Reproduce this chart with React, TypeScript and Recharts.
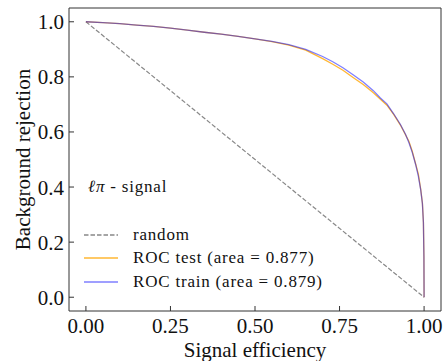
import { LineChart, Line, XAxis, YAxis, Legend, ReferenceArea } from 'recharts'

const FONT = 'Liberation Serif, Tinos, Times New Roman, DejaVu Serif, serif'

// signal efficiency / background rejection
const effTest = [0, 0.05, 0.1, 0.15, 0.2, 0.25, 0.3, 0.35, 0.4, 0.45, 0.5, 0.55, 0.6, 0.65, 0.7, 0.73, 0.76, 0.79, 0.82, 0.85, 0.87, 0.89, 0.91, 0.93, 0.945, 0.955, 0.965, 0.975, 0.983, 0.99, 0.995, 0.998, 0.9995, 1.0]
const rejTest = [1.0, 0.997, 0.993, 0.988, 0.983, 0.977, 0.970, 0.962, 0.955, 0.947, 0.938, 0.928, 0.915, 0.897, 0.866, 0.846, 0.824, 0.798, 0.772, 0.742, 0.720, 0.697, 0.664, 0.625, 0.590, 0.566, 0.530, 0.484, 0.447, 0.392, 0.342, 0.272, 0.150, 0.0]

const effTrain = [0, 0.05, 0.1, 0.15, 0.2, 0.25, 0.3, 0.35, 0.4, 0.45, 0.5, 0.55, 0.6, 0.65, 0.7, 0.73, 0.76, 0.79, 0.82, 0.85, 0.87, 0.89, 0.91, 0.93, 0.945, 0.955, 0.965, 0.975, 0.983, 0.99, 0.995, 0.998, 0.9995, 1.0]
const rejTrain = [1.0, 0.997, 0.993, 0.988, 0.983, 0.977, 0.970, 0.962, 0.955, 0.947, 0.938, 0.929, 0.917, 0.900, 0.874, 0.855, 0.833, 0.808, 0.781, 0.750, 0.724, 0.702, 0.666, 0.627, 0.592, 0.562, 0.526, 0.482, 0.440, 0.390, 0.340, 0.270, 0.148, 0.0]

const effRandom = [0, 1]
const rejRandom = [1, 0]

const legendOrder = ['random', 'ROC test (area = 0.877)', 'ROC train (area = 0.879)']

const xTicks = [0, 0.25, 0.5, 0.75, 1]
const yTicks = [0, 0.2, 0.4, 0.6, 0.8, 1]
const minorTicks = [0, 0.05, 0.1, 0.15, 0.2, 0.25, 0.3, 0.35, 0.4, 0.45, 0.5, 0.55, 0.6, 0.65, 0.7, 0.75, 0.8, 0.85, 0.9, 0.95, 1]

const toPoints = (xs: number[], ys: number[]) => xs.map((x, i) => ({ x, y: ys[i] }))

const testData = toPoints(effTest, rejTest)
const trainData = toPoints(effTrain, rejTrain)
const randomData = toPoints(effRandom, rejRandom)

const DOMAIN: [number, number] = [-0.05, 1.05]
const tickStyle = { fill: '#111', fontSize: 21, fontFamily: FONT }

const YTitle = ({ viewBox }: any) => {
  const cy = viewBox.y + viewBox.height / 2
  return (
    <text x={23} y={cy} transform={`rotate(-90, 23, ${cy})`} textAnchor="middle"
          dominantBaseline="central" fill="#111" fontSize={21} style={{ fontFamily: FONT }}>
      Background rejection
    </text>
  )
}

const XTitle = ({ viewBox }: any) => (
  <text x={viewBox.x + viewBox.width / 2} y={357} textAnchor="middle"
        fill="#111" fontSize={21} style={{ fontFamily: FONT }}>
    Signal efficiency
  </text>
)

const renderLegend = ({ payload }: any) => {
  const items = [...(payload || [])].sort(
    (a: any, b: any) => legendOrder.indexOf(a.value) - legendOrder.indexOf(b.value))
  return (
    <div style={{ fontFamily: FONT, fontSize: 17, color: '#111', letterSpacing: 0.8 }}>
      <div style={{ marginLeft: 4, height: 20, lineHeight: '20px', marginBottom: 26 }}>
        <span style={{ fontStyle: 'italic' }}>ℓπ</span> - signal
      </div>
      {items.map((entry: any) => (
        <div key={entry.value} style={{ display: 'flex', alignItems: 'center', height: 23.5 }}>
          <svg width={34} height={4}>
            <line x1={0} y1={2} x2={34} y2={2} stroke={entry.color} strokeWidth={1.5}
                  strokeOpacity={entry.payload?.strokeOpacity ?? 1}
                  strokeDasharray={entry.payload?.strokeDasharray} />
          </svg>
          <span style={{ marginLeft: 15, lineHeight: '20px' }}>{entry.value}</span>
        </div>
      ))}
    </div>
  )
}

export default function App() {
  return (
    <div style={{ position: 'relative', width: 444, height: 361, background: '#fff', fontFamily: FONT }}>
      <style>{'body { margin: 0; }'}</style>
      <LineChart width={444} height={361} margin={{ top: 8, right: 3, bottom: 0, left: 0 }}>
        <XAxis dataKey="x" type="number" domain={DOMAIN} allowDataOverflow ticks={xTicks}
               tickFormatter={(v: number) => v.toFixed(2)} tick={tickStyle} axisLine={false}
               tickSize={-5} tickMargin={12} tickLine={{ stroke: '#333' }} height={50}
               label={<XTitle />} />
        <XAxis xAxisId="minor" dataKey="x" type="number" domain={DOMAIN} allowDataOverflow
               ticks={minorTicks} tick={false} axisLine={false} mirror tickSize={3}
               tickLine={{ stroke: '#333' }} height={1} />
        <YAxis dataKey="y" type="number" domain={DOMAIN} allowDataOverflow ticks={yTicks}
               tickFormatter={(v: number) => v.toFixed(1)} tick={tickStyle} axisLine={false}
               tickSize={-5} tickMargin={10} tickLine={{ stroke: '#333' }} width={69}
               label={<YTitle />} />
        <YAxis yAxisId="minor" dataKey="y" type="number" domain={DOMAIN} allowDataOverflow
               ticks={minorTicks} tick={false} axisLine={false} mirror tickSize={3}
               tickLine={{ stroke: '#333' }} width={1} />
        <ReferenceArea x1={-0.05} x2={1.05} y1={-0.05} y2={1.05} fill="none" fillOpacity={0}
                       stroke="#333" strokeWidth={1} />
        <Line data={randomData} dataKey="y" name="random" type="linear" stroke="#888"
              strokeWidth={1.2} strokeDasharray="4.5 2" dot={false} isAnimationActive={false} />
        <Line data={testData} dataKey="y" name="ROC test (area = 0.877)" type="linear"
              stroke="#ffa500" strokeOpacity={0.8} strokeWidth={1.3} dot={false}
              isAnimationActive={false} />
        <Line data={trainData} dataKey="y" name="ROC train (area = 0.879)" type="linear"
              stroke="#0000ff" strokeOpacity={0.5} strokeWidth={1.3} dot={false}
              isAnimationActive={false} />
        <Legend layout="vertical" align="center" verticalAlign="middle" content={renderLegend}
                wrapperStyle={{ left: 84, top: 177, width: 'auto', bottom: 'auto' }} />
      </LineChart>
    </div>
  )
}
